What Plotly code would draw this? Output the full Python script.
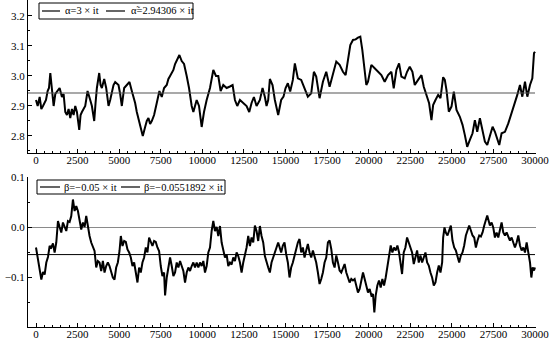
import plotly.graph_objects as go

# ---------------- data ----------------
alpha_it_a = [0,100,220,320,420,520,600,700,780,860,960,1060,1160,1300,1420,1560,1660,1760,1860,1960,
              2060,2160,2260,2360,2460,2600,2680,2760,2860,2960,3100,3180,3260,3360,3500,3580,3660,3800,3880,3960,
              4100,4220,4360,4460,4560,4660,4760,4860,4960,5060,5160,5300,5460,5620,5760,5860,5960,6060,6160,6260,
              6420,6560,6660,6760,6860,6960,7100,7260,7420,7560,7700,7860,7960,8060,8160,8260,8360,8460,8620,8760,
              8900,9060,9200,9360,9460,9660,9800,9960,10100,10260,10460,10660,10820,10960,11100,11260,11460,11660,11820,11960,
              12100,12260,12460,12660,12820,12960,13100,13260,13460,13620,13760,13860,13960,14060,14220,14360,14560]
alpha_val_a = [2.92,2.90,2.93,2.89,2.90,2.91,2.92,2.95,2.96,3.01,2.95,2.90,2.94,2.95,2.96,2.93,2.94,2.88,2.87,2.89,
               2.86,2.89,2.87,2.90,2.88,2.82,2.87,2.88,2.89,2.90,2.95,2.93,2.92,2.90,2.85,2.91,2.96,3.01,2.97,2.96,
               2.99,2.96,2.90,2.92,2.95,2.97,2.98,2.975,2.97,2.94,2.90,2.96,2.97,2.98,2.95,2.93,2.91,2.88,2.86,2.84,
               2.80,2.83,2.85,2.86,2.84,2.85,2.87,2.91,2.95,2.93,2.96,2.97,2.99,3.00,3.01,3.02,3.04,3.05,3.07,3.05,
               3.04,3.00,2.96,2.90,2.88,2.92,2.90,2.83,2.88,2.92,2.96,3.02,3.00,3.00,2.95,2.97,2.96,2.965,2.97,2.92,
               2.90,2.92,2.91,2.90,2.88,2.91,2.93,2.90,2.92,2.96,2.93,2.90,2.92,2.99,2.97,2.92,2.87]
alpha_it_b = [14739,14880,15000,15141,15281,15442,15562,15743,15944,16145,16345,16546,16707,16847,17048,17249,17450,17651,17851,18052,
              18253,18454,18614,18755,18896,19056,19217,19357,19498,19618,19719,19859,19960,20161,20361,20562,20763,20964,21165,21366,
              21506,21667,21827,21968,22169,22309,22470,22631,22771,22972,23173,23313,23474,23634,23775,23875,24016,24177,24317,24478,
              24578,24679,24819,24980,25120,25281,25482,25643,25783,25924,26084,26245,26386,26526,26687,26847,26988,27128,27289,27450,
              27590,27731,27851,27992,28193,28394,28594,28795,28936,29096,29237,29398,29538,29699,29839,29940,30000]
alpha_val_b = [2.920,2.931,2.959,2.976,2.948,2.987,3.042,2.992,2.987,2.959,2.931,2.942,3.014,2.998,2.926,2.981,3.014,2.964,3.003,3.048,
               3.037,3.014,3.003,3.048,3.103,3.120,3.122,3.128,3.131,3.087,3.031,2.970,2.981,3.037,3.026,3.014,3.003,2.981,3.003,3.014,
               2.959,3.020,3.042,2.998,2.992,3.014,3.031,3.014,2.970,2.987,3.003,2.964,2.937,2.909,2.853,2.903,2.920,2.937,2.926,2.996,
               2.987,2.953,2.881,2.898,2.948,2.887,2.864,2.837,2.803,2.764,2.787,2.809,2.853,2.814,2.859,2.820,2.781,2.770,2.798,2.831,
               2.814,2.787,2.770,2.809,2.814,2.842,2.876,2.909,2.937,2.970,2.931,2.981,2.931,2.970,2.992,3.076,3.081]

beta_it_a = [0,100,220,320,420,520,620,720,820,920,1020,1120,1220,1320,1420,1520,1620,1720,1820,1920,
             2020,2120,2220,2320,2420,2520,2620,2720,2820,2920,3020,3120,3220,3320,3420,3520,3620,3720,3820,3920,
             4020,4120,4220,4320,4420,4520,4620,4720,4820,4920,5020,5100,5200,5300,5400,5500,5600,5700,5800,5900,
             6000,6100,6200,6300,6400,6500,6600,6700,6800,6900,7000,7100,7200,7300,7400,7500,7600,7700,7760,7860,
             7960,8060,8160,8260,8360,8460,8560,8660,8760,8860,8960,9060,9160,9260,9360,9460,9560,9660,9760,9860,
             9960,10060,10160,10260,10360,10460,10560,10660,10760,10860,10960,11060,11160,11260,11360,11460,11560,11660,11760,11860,
             11960,12060,12160,12260,12360,12460,12560,12660,12760,12860,12960,13060,13160,13260,13360,13460,13560,13660,13760,13860,
             13960,14060,14160,14260,14360,14460,14560]
beta_val_a = [-0.041,-0.061,-0.081,-0.105,-0.090,-0.095,-0.071,-0.060,-0.038,-0.041,-0.033,-0.051,-0.031,0.012,0.000,-0.011,0.009,0.000,-0.008,0.012,
              0.010,0.022,0.055,0.032,0.042,0.032,0.012,-0.005,0.009,0.000,0.022,0.000,-0.018,-0.031,-0.041,-0.048,-0.081,-0.068,-0.071,-0.088,
              -0.068,-0.091,-0.078,-0.071,-0.078,-0.088,-0.101,-0.105,-0.081,-0.071,-0.048,-0.018,-0.038,-0.028,-0.030,-0.045,-0.051,-0.061,-0.078,-0.071,
              -0.091,-0.111,-0.081,-0.091,-0.071,-0.061,-0.041,-0.051,-0.021,-0.031,-0.038,-0.028,-0.030,-0.041,-0.048,-0.078,-0.098,-0.091,-0.137,-0.101,
              -0.078,-0.061,-0.078,-0.098,-0.091,-0.071,-0.081,-0.068,-0.078,-0.088,-0.111,-0.091,-0.081,-0.088,-0.078,-0.071,-0.081,-0.071,-0.081,-0.071,
              -0.078,-0.068,-0.091,-0.078,-0.051,-0.041,-0.008,0.012,-0.008,0.000,-0.018,0.002,-0.031,-0.048,-0.061,-0.055,-0.078,-0.071,-0.075,-0.061,
              -0.068,-0.051,-0.058,-0.071,-0.091,-0.071,-0.058,-0.041,-0.018,-0.038,-0.021,-0.031,0.003,-0.008,-0.028,0.002,-0.018,-0.031,-0.058,-0.071,
              -0.081,-0.091,-0.071,-0.061,-0.048,-0.041,-0.031]
beta_it_b = [14639,14739,14839,14940,15040,15141,15241,15341,15442,15542,15642,15743,15843,15944,16044,16145,16245,16345,16446,16546,
             16647,16747,16847,16948,17048,17149,17249,17349,17450,17550,17651,17751,17851,17952,18052,18153,18253,18353,18454,18554,
             18655,18755,18855,18956,19056,19157,19257,19357,19458,19558,19659,19759,19859,19960,20060,20161,20261,20341,20422,20522,
             20622,20723,20823,20924,21024,21124,21225,21325,21426,21526,21626,21727,21827,21928,22008,22108,22209,22309,22410,22510,
             22610,22711,22811,22912,23012,23112,23213,23313,23414,23514,23614,23715,23815,23916,24016,24116,24217,24317,24418,24478,
             24558,24638,24739,24839,24940,25040,25141,25241,25341,25442,25542,25642,25743,25843,25944,26044,26145,26245,26345,26446,
             26546,26647,26747,26847,26948,27048,27128,27209,27289,27390,27490,27590,27691,27791,27892,27992,28092,28193,28293,28394,
             28494,28594,28695,28795,28896,28996,29096,29197,29297,29398,29498,29598,29699,29779,29859,29940,30000]
beta_val_b = [-0.041,-0.051,-0.037,-0.031,-0.054,-0.071,-0.101,-0.081,-0.071,-0.057,-0.041,-0.031,-0.024,-0.051,-0.041,-0.061,-0.047,-0.034,-0.051,-0.061,
              -0.047,-0.057,-0.071,-0.091,-0.114,-0.104,-0.091,-0.071,-0.061,-0.031,-0.027,-0.044,-0.071,-0.081,-0.057,-0.071,-0.087,-0.091,-0.081,-0.074,
              -0.091,-0.101,-0.111,-0.104,-0.107,-0.104,-0.121,-0.131,-0.124,-0.104,-0.091,-0.104,-0.121,-0.131,-0.124,-0.137,-0.134,-0.171,-0.137,-0.117,
              -0.107,-0.121,-0.104,-0.117,-0.101,-0.081,-0.061,-0.037,-0.051,-0.041,-0.047,-0.037,-0.051,-0.071,-0.094,-0.051,-0.041,-0.021,-0.031,-0.041,
              -0.051,-0.074,-0.061,-0.047,-0.071,-0.057,-0.071,-0.061,-0.051,-0.071,-0.077,-0.091,-0.101,-0.117,-0.111,-0.091,-0.077,-0.091,-0.071,-0.021,
              -0.001,-0.011,-0.017,-0.007,0.003,-0.027,-0.041,-0.047,-0.057,-0.071,-0.057,-0.051,-0.037,-0.017,-0.007,0.003,-0.007,-0.017,-0.021,-0.041,
              -0.027,-0.017,-0.019,-0.011,0.003,0.013,0.023,0.013,0.003,0.009,-0.001,-0.021,-0.011,-0.021,-0.007,0.009,-0.011,-0.017,-0.011,-0.021,
              -0.027,-0.021,-0.031,-0.041,-0.031,-0.017,-0.037,-0.047,-0.041,-0.051,-0.031,-0.051,-0.071,-0.101,-0.081,-0.087,-0.081]

alpha_est = 2.94306
beta_est = -0.0551892
x_end = 30000
x_ticks = [0, 2500, 5000, 7500, 10000, 12500, 15000, 17500, 20000, 22500, 25000, 27500, 30000]
alpha_ticks = [2.8, 2.9, 3.0, 3.1, 3.2]
alpha_ticktext = ["2.8", "2.9", "3.0", "3.1", "3.2"]
beta_ticks = [-0.1, 0.0, 0.1]
beta_ticktext = ["\u22120.1", "0.0", "0.1"]

leg_alpha = ["\u03b1=3 \u00d7 it", "\u03b1\u0303=2.94306 \u00d7 it"]
leg_beta = ["\u03b2=\u22120.05 \u00d7 it", "\u03b2=\u22120.0551892 \u00d7 it"]

# ---------------- figure ----------------
W, H = 549, 349
ML, MR, MT, MB = 28, 13, 0, 22
PW, PH = W - ML - MR, H - MT - MB
FONT = "Liberation Serif"
x_range = [-481, 30060]


def px(xp):
    return (xp - ML) / PW


def py(yp):
    return 1 - (yp - MT) / PH


alpha_it = alpha_it_a + alpha_it_b
alpha_val = alpha_val_a + alpha_val_b
beta_it = beta_it_a + beta_it_b
beta_val = beta_val_a + beta_val_b

fig = go.Figure()
fig.add_trace(go.Scatter(x=alpha_it, y=alpha_val, mode="lines", name=leg_alpha[0],
                         line=dict(color="black", width=2), xaxis="x", yaxis="y"))
fig.add_trace(go.Scatter(x=[x_range[0], x_end], y=[alpha_est, alpha_est], mode="lines", name=leg_alpha[1],
                         line=dict(color="#555555", width=1.1), xaxis="x", yaxis="y"))
fig.add_trace(go.Scatter(x=beta_it, y=beta_val, mode="lines", name=leg_beta[0],
                         line=dict(color="black", width=2), xaxis="x2", yaxis="y2"))
fig.add_trace(go.Scatter(x=[x_range[0], x_end], y=[beta_est, beta_est], mode="lines", name=leg_beta[1],
                         line=dict(color="black", width=1), xaxis="x2", yaxis="y2"))

tickfont = dict(family=FONT, size=11, color="black")
common_x = dict(range=x_range, tickmode="array", tickvals=x_ticks, ticktext=[str(v) for v in x_ticks],
                ticks="inside", ticklen=4, tickcolor="black", showline=True, linecolor="black", linewidth=1,
                showgrid=False, zeroline=False, tickfont=tickfont, automargin=False,
                ticklabeloverflow="allow", ticklabelstandoff=-3,
                minor=dict(dtick=500, tick0=0, ticks="inside", ticklen=2, tickcolor="black"))
common_y = dict(tickmode="array", ticks="inside", ticklen=4, tickcolor="black", showline=True,
                linecolor="black", linewidth=1, showgrid=False, tickfont=tickfont, automargin=False,
                ticklabeloverflow="allow",
                minor=dict(dtick=0.05, tick0=0, ticks="inside", ticklen=2, tickcolor="black"))

# hand-built legend boxes (positions in pixels, converted to paper coords)
legends = [
    dict(box=(39, 3, 193, 19), yc=11, items=[(42, 60, 63, leg_alpha[0]), (106, 125, 129, leg_alpha[1])]),
    dict(box=(37, 180, 225, 194), yc=187, items=[(40, 60, 62, leg_beta[0]), (121, 140, 142, leg_beta[1])]),
]
shapes, annotations = [], []
for lg in legends:
    x0, y0, x1, y1 = lg["box"]
    shapes.append(dict(type="rect", xref="paper", yref="paper", x0=px(x0), x1=px(x1), y0=py(y1), y1=py(y0),
                       line=dict(color="black", width=1), fillcolor="white", layer="above"))
    for lx0, lx1, tx, label in lg["items"]:
        shapes.append(dict(type="line", xref="paper", yref="paper", x0=px(lx0), x1=px(lx1),
                           y0=py(lg["yc"]), y1=py(lg["yc"]), line=dict(color="black", width=1.2), layer="above"))
        annotations.append(dict(text=label, xref="paper", yref="paper", x=px(tx), y=py(lg["yc"]),
                                xanchor="left", yanchor="middle", showarrow=False,
                                font=dict(family=FONT, size=10.5, color="black")))

fig.update_layout(
    width=W, height=H,
    margin=dict(l=ML, r=MR, t=MT, b=MB, autoexpand=False),
    paper_bgcolor="white", plot_bgcolor="white",
    font=dict(family=FONT, color="black"),
    showlegend=False,
    xaxis=dict(domain=[0, 1], anchor="y", **common_x),
    yaxis=dict(domain=[(PH - 153) / PH, 1], anchor="x", range=[2.7433, 3.2533],
               tickvals=alpha_ticks, ticktext=alpha_ticktext, zeroline=False, **common_y),
    xaxis2=dict(domain=[0, 1], anchor="y2", **common_x),
    yaxis2=dict(domain=[0, 150 / PH], anchor="x2", range=[-0.2, 0.1],
                tickvals=beta_ticks, ticktext=beta_ticktext, zeroline=True, zerolinecolor="#8a8a8a",
                zerolinewidth=1, **common_y),
    shapes=shapes,
    annotations=annotations,
)

fig.write_html("out.html", config={"displayModeBar": False},
               post_script="document.body.style.margin='0';document.body.style.overflow='hidden';")
